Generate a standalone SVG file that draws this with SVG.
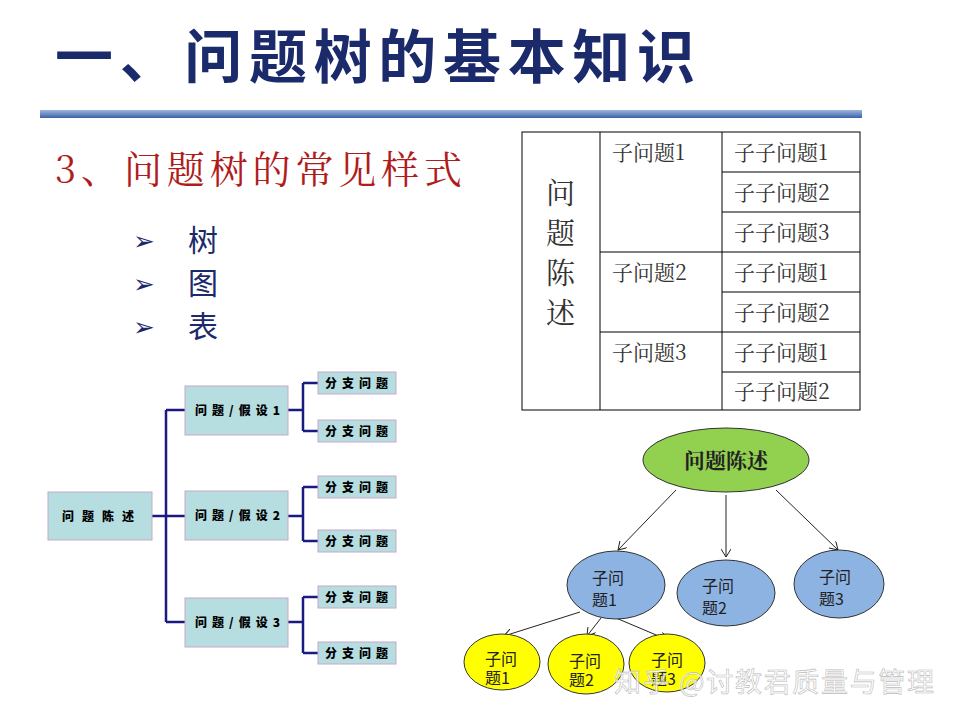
<svg xmlns="http://www.w3.org/2000/svg" width="960" height="720" viewBox="0 0 960 720">
<defs>
<style>
.cjk{font-family:"Noto Sans CJK SC","Liberation Sans",sans-serif}
.box{fill:#b6dde0;stroke:#c8a8c8;stroke-width:1}
.bt{font-family:"Noto Sans CJK SC",sans-serif;font-weight:900;font-size:12px;fill:#000;text-anchor:middle;letter-spacing:5px}
.ln{stroke:#1a1a80;stroke-width:2.5;fill:none}
.tb{fill:none;stroke:#000;stroke-width:1}
.tt{font-family:"Noto Serif CJK SC","Liberation Serif","Noto Sans CJK SC",serif;font-size:21px;fill:#333}
.vt{font-family:"Noto Serif CJK SC","Liberation Serif","Noto Sans CJK SC",serif;font-size:29px;fill:#333}
.ar{stroke:#222;stroke-width:1;fill:none;marker-end:url(#a)}
.et{font-family:"Noto Sans CJK SC",sans-serif;font-size:16px;fill:#222}
</style>
<marker id="a" markerWidth="10" markerHeight="10" refX="8" refY="5" orient="auto" markerUnits="userSpaceOnUse"><path d="M0,0 L8,5 L0,10" fill="none" stroke="#222" stroke-width="1"/></marker>
<linearGradient id="bar" x1="0" y1="0" x2="0" y2="1"><stop offset="0" stop-color="#9fb6dd"/><stop offset="1" stop-color="#3a62a8"/></linearGradient>
</defs>
<rect width="960" height="720" fill="#fff"/>
<text x="55" y="78" class="cjk" font-size="58" font-weight="bold" fill="#1b2a6b" textLength="640">一、问题树的基本知识</text>
<rect x="40" y="110" width="822" height="8" fill="url(#bar)"/>
<text x="55" y="183" font-family="Noto Serif CJK SC,Liberation Serif,Noto Sans CJK SC,serif" font-size="38" fill="#b01c1c" textLength="407">3、问题树的常见样式</text>
<g class="cjk" font-size="30" fill="#1b2a6b">
<text x="133" y="250" font-size="26">➢</text><text x="188" y="251">树</text>
<text x="133" y="293" font-size="26">➢</text><text x="188" y="294">图</text>
<text x="133" y="336" font-size="26">➢</text><text x="188" y="337">表</text>
</g>

<g id="table">
<rect class="tb" x="522" y="132" width="338" height="278"/>
<line class="tb" x1="600" y1="132" x2="600" y2="410"/>
<line class="tb" x1="722" y1="132" x2="722" y2="410"/>
<line class="tb" x1="600" y1="252" x2="722" y2="252"/>
<line class="tb" x1="600" y1="332" x2="722" y2="332"/>
<line class="tb" x1="722" y1="172" x2="860" y2="172"/>
<line class="tb" x1="722" y1="212" x2="860" y2="212"/>
<line class="tb" x1="722" y1="252" x2="860" y2="252"/>
<line class="tb" x1="722" y1="292" x2="860" y2="292"/>
<line class="tb" x1="722" y1="332" x2="860" y2="332"/>
<line class="tb" x1="722" y1="372" x2="860" y2="372"/>
<text class="vt" x="546" y="204">问</text><text class="vt" x="546" y="244">题</text><text class="vt" x="546" y="284">陈</text><text class="vt" x="546" y="324">述</text>
<text class="tt" x="612" y="160">子问题1</text>
<text class="tt" x="612" y="280">子问题2</text>
<text class="tt" x="612" y="360">子问题3</text>
<text class="tt" x="734" y="160">子子问题1</text>
<text class="tt" x="734" y="200">子子问题2</text>
<text class="tt" x="734" y="240">子子问题3</text>
<text class="tt" x="734" y="280">子子问题1</text>
<text class="tt" x="734" y="320">子子问题2</text>
<text class="tt" x="734" y="360">子子问题1</text>
<text class="tt" x="734" y="399">子子问题2</text>
</g>

<g id="tree-connectors">
<path class="ln" d="M152,516H166M166,410V622M166,410H185M166,516H185M166,622H185"/>
<path class="ln" d="M288,410H303M303,383V431M303,383H318M303,431H318"/>
<path class="ln" d="M288,516H303M303,487V541M303,487H318M303,541H318"/>
<path class="ln" d="M288,622H303M303,597V653M303,597H318M303,653H318"/>
</g>
<g id="t-root"><rect class="box" x="48" y="492" width="104" height="48"/><text class="bt" x="102" y="521" font-size="13" style="letter-spacing:8px">问题陈述</text></g>
<g id="t-m1"><rect class="box" x="185" y="386" width="103" height="49"/><text class="bt" x="240" y="415">问题/假设1</text></g>
<g id="t-m2"><rect class="box" x="185" y="491" width="103" height="49"/><text class="bt" x="240" y="520">问题/假设2</text></g>
<g id="t-m3"><rect class="box" x="185" y="598" width="103" height="49"/><text class="bt" x="240" y="627">问题/假设3</text></g>
<g id="t-l1"><rect class="box" x="318" y="372" width="78" height="22"/><text class="bt" x="359" y="388">分支问题</text></g>
<g id="t-l2"><rect class="box" x="318" y="420" width="78" height="22"/><text class="bt" x="359" y="436">分支问题</text></g>
<g id="t-l3"><rect class="box" x="318" y="476" width="78" height="22"/><text class="bt" x="359" y="492">分支问题</text></g>
<g id="t-l4"><rect class="box" x="318" y="530" width="78" height="22"/><text class="bt" x="359" y="546">分支问题</text></g>
<g id="t-l5"><rect class="box" x="318" y="586" width="78" height="22"/><text class="bt" x="359" y="602">分支问题</text></g>
<g id="t-l6"><rect class="box" x="318" y="642" width="78" height="22"/><text class="bt" x="359" y="658">分支问题</text></g>

<g id="graph-connectors">
<line class="ar" x1="676" y1="490" x2="618" y2="550"/>
<line class="ar" x1="726" y1="495" x2="726" y2="557"/>
<line class="ar" x1="776" y1="490" x2="838" y2="550"/>
<line class="ar" x1="580" y1="612" x2="504" y2="636"/>
<line class="ar" x1="601" y1="618" x2="587" y2="636"/>
<line class="ar" x1="616" y1="618" x2="668" y2="640"/>
</g>
<g id="g-root"><ellipse cx="726" cy="460" rx="83" ry="32" fill="#92d050" stroke="#333"/><text x="726" y="468" text-anchor="middle" font-family="Noto Serif CJK SC,Noto Sans CJK SC,serif" font-weight="bold" font-size="21" fill="#222">问题陈述</text></g>
<g id="g-b1"><ellipse cx="616" cy="585" rx="49" ry="34" fill="#8db3e2" stroke="#333"/><text class="et" x="592" y="584">子问</text><text class="et" x="592" y="606">题1</text></g>
<g id="g-b2"><ellipse cx="726" cy="593" rx="49" ry="33" fill="#8db3e2" stroke="#333"/><text class="et" x="702" y="592">子问</text><text class="et" x="702" y="614">题2</text></g>
<g id="g-b3"><ellipse cx="839" cy="584" rx="45" ry="34" fill="#8db3e2" stroke="#333"/><text class="et" x="819" y="583">子问</text><text class="et" x="819" y="605">题3</text></g>
<g id="g-y1"><ellipse cx="502" cy="662" rx="38" ry="28" fill="#ffff00" stroke="#333"/><text class="et" x="485" y="665" font-size="14">子问</text><text class="et" x="485" y="684" font-size="14">题1</text></g>
<g id="g-y2"><ellipse cx="586" cy="664" rx="38" ry="30" fill="#ffff00" stroke="#333"/><text class="et" x="569" y="667" font-size="14">子问</text><text class="et" x="569" y="686" font-size="14">题2</text></g>
<g id="g-y3"><ellipse cx="667" cy="663" rx="38" ry="29" fill="#ffff00" stroke="#333"/><text class="et" x="651" y="666" font-size="14">子问</text><text class="et" x="651" y="685" font-size="14">题3</text></g>
<text x="614" y="692" class="cjk" font-size="27" fill="#ffffff" fill-opacity="0.75" stroke="#bbb" stroke-width="0.6" textLength="320">知乎 @讨教君质量与管理</text>
</svg>
